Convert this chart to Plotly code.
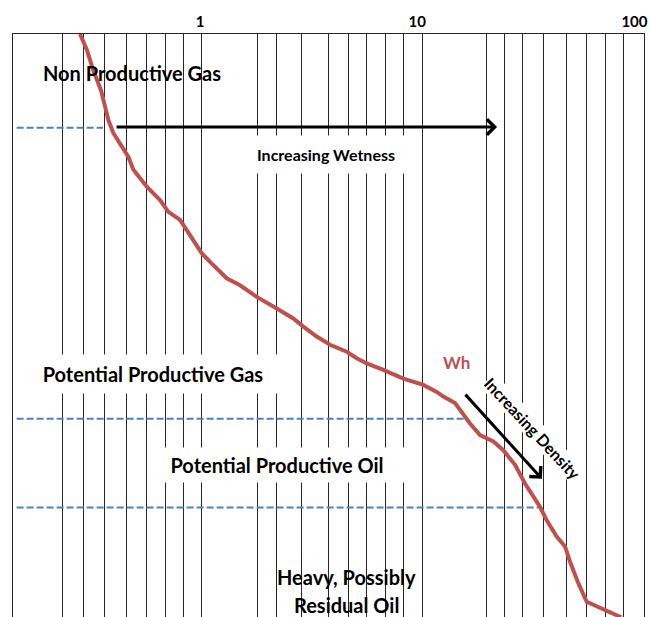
import numpy as np
import plotly.graph_objects as go

# Log-scale x axis: labelled decades and the hand-ruled minor grid lines
major_ticks = [1, 10, 100]
major_labels = ["1", "10", "100"]
grid_minor = [0.238, 0.294, 0.366, 0.459, 0.569, 0.690, 0.832,
              1.80, 2.18, 2.85, 3.76, 4.62, 5.60, 6.77, 8.19,
              19.5, 23.5, 28.3, 35.2, 44.8, 55.0, 66.7, 80.4]

# Wh (wetness) curve; y is relative position down the chart (0 = top, 100 = bottom)
wh_x = [0.284, 0.305, 0.326, 0.353, 0.369, 0.382, 0.402, 0.439, 0.470, 0.495,
        0.569, 0.653, 0.712, 0.804, 0.862, 0.940, 1.007, 1.098, 1.306, 1.500,
        1.784, 2.197, 2.610, 2.897, 3.329, 3.823, 4.549, 5.046, 5.600, 6.653,
        8.192, 10.08, 11.59, 12.41, 14.02, 16.39, 18.18, 20.88, 23.17, 26.16,
        29.02, 33.92, 36.37, 40.35, 43.99, 46.34, 50.51, 55.12, 63.31, 75.29, 79.0]
wh_y = [0.0, 2.7, 6.2, 9.6, 12.5, 14.8, 17.0, 19.3, 21.1, 23.3,
        26.2, 28.5, 30.5, 31.9, 33.6, 35.9, 37.6, 39.1, 41.9, 43.1,
        45.1, 47.1, 48.8, 50.2, 51.9, 53.3, 54.5, 55.6, 56.5, 57.6,
        59.1, 60.2, 61.4, 62.2, 63.3, 66.8, 68.8, 69.9, 71.4, 73.9,
        77.1, 81.1, 83.4, 86.2, 87.9, 90.5, 94.2, 97.4, 98.5, 99.7, 100.0]

# Dashed cut-off levels between the zones
cutoff_levels = [16.1, 66.0, 81.2]
cutoff_start = [0.147, 0.147, 0.147]
cutoff_end = [0.361, 15.55, 33.3]

# Trend arrows (tail, head)
wetness_arrow_x = [0.409, 21.7]
wetness_arrow_y = [15.95, 15.95]
density_arrow_x = [15.4, 34.6]
density_arrow_y = [61.6, 76.3]

FONT = "Lato, 'Open Sans', sans-serif"

fig = go.Figure()

for lvl, x0, x1 in zip(cutoff_levels, cutoff_start, cutoff_end):
    fig.add_trace(go.Scatter(
        x=[x0, x1], y=[lvl, lvl], mode="lines",
        line=dict(color="#4f81bd", width=2, dash="7px,3px"),
        hoverinfo="skip", showlegend=False))

fig.add_trace(go.Scatter(
    x=wh_x, y=wh_y, mode="lines", name="Wh",
    line=dict(color="#c0504d", width=4),
    hoverinfo="skip", showlegend=False))


def label(text, xv, yv, size=20, color="#000000", bg=None, w=None, h=None, angle=0):
    ann = dict(
        text=f"<b>{text}</b>", x=np.log10(xv), y=yv, xref="x", yref="y",
        showarrow=False, textangle=angle,
        font=dict(family=FONT, size=size, color=color),
        xanchor="center", yanchor="middle", borderpad=0)
    if bg:
        ann["bgcolor"] = bg
    if w:
        ann["width"] = w
    if h:
        ann["height"] = h
    return ann


annotations = [
    label("Non Productive Gas", 0.486, 6.7),
    label("Increasing Wetness", 3.65, 20.6, size=16, bg="white", w=160, h=37),
    label("Potential Productive Gas", 0.610, 58.4, bg="white", w=250, h=38),
    label("Potential Productive Oil", 2.204, 73.9, bg="white", w=256, h=34),
    label("Increasing Density", 31.5, 67.6, size=16, bg="white", angle=47),
    label("Wh", 14.3, 56.3, size=17, color="#c0504d"),
    label("Heavy, Possibly", 4.52, 93.1),
    label("Residual Oil", 4.56, 97.9),
]

for ax_x, ax_y in ((wetness_arrow_x, wetness_arrow_y), (density_arrow_x, density_arrow_y)):
    annotations.append(dict(
        x=np.log10(ax_x[1]), y=ax_y[1], ax=np.log10(ax_x[0]), ay=ax_y[0],
        xref="x", yref="y", axref="x", ayref="y", text="",
        showarrow=True, arrowhead=4, arrowsize=1, arrowwidth=3, arrowcolor="#000000"))

fig.update_layout(
    width=650, height=617,
    margin=dict(l=13, r=6, t=34, b=0),
    paper_bgcolor="white", plot_bgcolor="white",
    annotations=annotations,
    xaxis=dict(
        type="log", range=[-0.849, 2.0], side="top",
        tickvals=major_ticks, ticktext=major_labels,
        ticks="", ticklabelposition="outside left", ticklabelshift=4,
        tickfont=dict(family=FONT, size=15, color="#000000", weight="bold"),
        showgrid=True, gridcolor="#262626", gridwidth=1,
        minor=dict(tickvals=grid_minor, showgrid=True, gridcolor="#262626", gridwidth=1, ticks=""),
        showline=True, linecolor="#262626", linewidth=1, mirror=False,
        zeroline=False, fixedrange=True),
    yaxis=dict(
        range=[100, 0], showgrid=False, zeroline=False, showticklabels=False,
        ticks="", showline=True, linecolor="#262626", linewidth=1, mirror=True,
        fixedrange=True),
)

fig.write_html("out.html")
